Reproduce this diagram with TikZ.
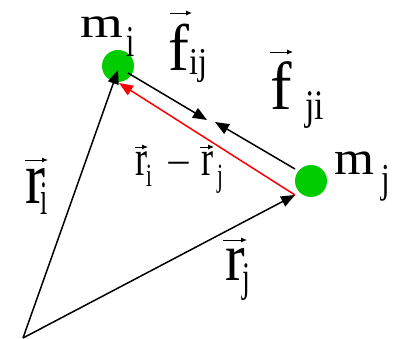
\documentclass[tikz,border=0pt]{standalone}
\usepackage{fontspec}
\setmainfont{Liberation Serif}
\usepackage{graphicx}
\usetikzlibrary{arrows.meta}
\definecolor{dotgreen}{RGB}{0,204,0}
\definecolor{vred}{RGB}{255,0,0}
\newcommand{\gly}[4]{\scalebox{#2}[#3]{\fontsize{#1}{#1}\selectfont #4}}
\newcommand{\sub}[2]{\hspace{#1}\raisebox{#2}}
\begin{document}
\begin{tikzpicture}[x=1pt,y=-1pt,
  lbl/.style={inner sep=0pt, outer sep=0pt, anchor=base west},
  vecline/.style={line width=1.5pt, -{Triangle[length=14pt,width=11pt]}},
  vecarr/.style={line width=0.9pt, -{Latex[length=6pt,width=5pt]}},
  mass/.style={circle, fill=dotgreen, minimum size=32pt, inner sep=0pt}]
\useasboundingbox (0,0) rectangle (396,339);
% masses
\node[mass] (mi) at (118,66) {};
\node[mass] (mj) at (311,181) {};
% end points
\coordinate (O) at (23,338);
\coordinate (ri) at (118,70);
\coordinate (rj) at (295,195);
\coordinate (rd) at (119,83);
\coordinate (fijs) at (128,73);
\coordinate (fije) at (207,120);
\coordinate (fjis) at (295,169);
\coordinate (fjie) at (215,122);
% vectors
\draw[vecline] (O) -- (ri);
\draw[vecline] (O) -- (rj);
\draw[vecline, vred] (rj) -- (rd);
\draw[vecline] (fijs) -- (fije);
\draw[vecline] (fjis) -- (fjie);
% labels
\node[lbl] (lmi) at (80,38) {\gly{44}{1.25}{1}{m}\sub{3.7pt}{-19pt}{\gly{42}{0.7}{1.05}{i}}};
\node[lbl] (lmj) at (334,175) {\gly{48}{1.07}{1}{m}\sub{8pt}{-18pt}{\gly{41}{0.75}{1}{j}}};
\node[lbl] (lfij) at (168,71) {\gly{66}{0.95}{1}{f}\sub{1.1pt}{-4pt}{\gly{38}{0.85}{1}{ij}}};
\node[lbl] (lfji) at (270,110) {\gly{68}{0.95}{1}{f}\sub{13.9pt}{-10pt}{\gly{42}{0.8}{1}{ji}}};
\node[lbl] (lri) at (25,204) {\gly{62}{0.97}{1.2}{r}\sub{-5pt}{-11pt}{\gly{40}{0.65}{1.2}{i}}};
\node[lbl] (lrj) at (225,280) {\gly{62}{0.95}{1.1}{r}\sub{-2pt}{-11pt}{\gly{40}{0.7}{1.05}{j}}};
\node[lbl] (lrij) at (135,176) {\gly{42}{0.86}{1.2}{r}\sub{-1pt}{-10pt}{\gly{30}{0.7}{1.08}{i}}\hspace{14.2pt}\raisebox{-1pt}{\gly{40}{1.1}{1}{−}}\hspace{10.2pt}\gly{42}{0.86}{1.2}{r}\sub{4pt}{-10pt}{\gly{30}{0.7}{1.08}{j}}};
% vector arrows over letters
\draw[vecarr] (170,13) -- (192,13);
\draw[vecarr] (270,52) -- (293,52);
\draw[vecarr] (25,160) -- (48,160);
\draw[vecarr] (223,240) -- (247,240);
\draw[vecarr] (135,147) -- (148,147);
\draw[vecarr] (200,147) -- (214,147);
\end{tikzpicture}
\end{document}
